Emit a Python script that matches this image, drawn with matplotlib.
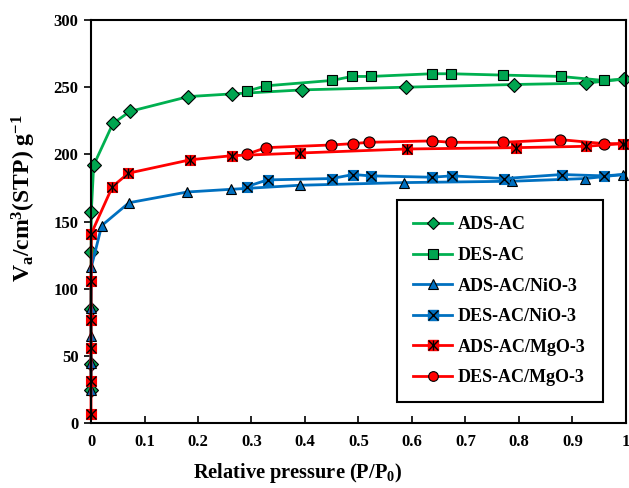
import numpy as np
import matplotlib.pyplot as plt
from matplotlib.lines import Line2D

plt.rcParams['font.family'] = 'Liberation Serif'
plt.rcParams['font.weight'] = 'bold'
plt.rcParams['mathtext.fontset'] = 'custom'
plt.rcParams['mathtext.rm'] = 'Liberation Serif:bold'
plt.rcParams['mathtext.it'] = 'Liberation Serif:bold'
plt.rcParams['mathtext.bf'] = 'Liberation Serif:bold'
plt.rcParams['mathtext.default'] = 'regular'

# adsorption / desorption branches
ads_ac_x = [0.0, 0.0, 0.0, 0.0002, 0.0005, 0.005, 0.041, 0.073, 0.182, 0.263, 0.395, 0.589, 0.791, 0.925, 0.996]
ads_ac_y = [25, 44, 85, 127, 157, 192, 223, 232, 243, 245, 248, 250, 252, 253, 256]
des_ac_x = [0.996, 0.959, 0.878, 0.770, 0.673, 0.637, 0.523, 0.488, 0.450, 0.327, 0.291]
des_ac_y = [256, 255, 258, 259, 260, 260, 258, 258, 255, 251, 247]

ads_ni_x = [0.0, 0.0, 0.0, 0.0, 0.0005, 0.020, 0.071, 0.180, 0.262, 0.390, 0.585, 0.787, 0.924, 0.995]
ads_ni_y = [25, 45, 65, 86, 116, 147, 164, 172, 174, 177, 179, 180, 182, 185]
des_ni_x = [0.995, 0.959, 0.880, 0.772, 0.675, 0.637, 0.523, 0.490, 0.450, 0.330, 0.291]
des_ni_y = [185, 184, 185, 182, 184, 183, 184, 185, 182, 181, 176]

ads_mg_x = [0.0, 0.0, 0.0, 0.0, 0.0002, 0.0005, 0.040, 0.070, 0.186, 0.263, 0.390, 0.590, 0.794, 0.925, 0.995]
ads_mg_y = [7, 31, 56, 77, 106, 141, 176, 186, 196, 199, 201, 204, 205, 206, 208]
des_mg_x = [0.995, 0.959, 0.877, 0.770, 0.673, 0.637, 0.520, 0.490, 0.449, 0.327, 0.291]
des_mg_y = [208, 208, 211, 209, 209, 210, 209, 208, 207, 205, 200]

labels = ['ADS-AC', 'DES-AC', 'ADS-AC/NiO-3', 'DES-AC/NiO-3', 'ADS-AC/MgO-3', 'DES-AC/MgO-3']

green = '#00B050'
blue = '#0070C0'
red = '#FF0000'

fig = plt.figure(figsize=(6.29, 4.88), dpi=100)
ax = fig.add_axes([0.1447, 0.133, 0.8503, 0.826])

lw = 2.0
ms = 7.5
skip = list(range(1, 11))
kw = dict(clip_on=False)

# AC
ax.plot(ads_ac_x, ads_ac_y, color=green, lw=lw, marker='D', ms=7, mfc='#00A550', mec='black', mew=0.8, **kw)
ax.plot(des_ac_x, des_ac_y, color=green, lw=lw, marker='s', ms=ms, mfc='#00A550', mec='black', mew=0.8,
        markevery=skip, **kw)
# NiO
ax.plot(ads_ni_x, ads_ni_y, color=blue, lw=lw, marker='^', ms=ms, mfc=blue, mec='black', mew=0.8, **kw)
ax.plot(des_ni_x, des_ni_y, color=blue, lw=lw, marker='s', ms=ms, mfc=blue, mec=blue, mew=0.8,
        markevery=skip, **kw)
ax.plot(des_ni_x, des_ni_y, ls='none', marker='x', ms=ms, mec='black', mew=1.0, markevery=skip, **kw)
# MgO
ax.plot(des_mg_x, des_mg_y, color=red, lw=lw, marker='o', ms=ms + 0.5, mfc=red, mec='black', mew=0.8,
        markevery=skip, **kw)
ax.plot(ads_mg_x, ads_mg_y, color=red, lw=lw, marker='s', ms=ms, mfc=red, mec=red, mew=0.8, **kw)
ax.plot(ads_mg_x, ads_mg_y, ls='none', marker='x', ms=ms, mec='black', mew=1.0, **kw)
ax.plot(ads_mg_x, ads_mg_y, ls='none', marker='|', ms=ms, mec='black', mew=1.0, **kw)

ax.set_xlim(0, 1)
ax.set_ylim(0, 300)
ax.set_xticks(np.arange(0, 1.01, 0.1))
ax.set_xticklabels(['0', '0.1', '0.2', '0.3', '0.4', '0.5', '0.6', '0.7', '0.8', '0.9', '1'])
ax.set_yticks(range(0, 301, 50))
ax.tick_params(axis='x', direction='in', length=5, width=1.2, labelsize=12, pad=8)
ax.tick_params(axis='y', direction='out', length=5, width=1.2, labelsize=12, pad=4)
for lab in ax.get_xticklabels() + ax.get_yticklabels():
    lab.set_fontweight('bold')
for sp in ax.spines.values():
    sp.set_linewidth(1.5)

ax.set_xlabel('Relative pressure (P/P$_0$)', fontsize=14.7, fontweight='bold')
ax.xaxis.set_label_coords(0.387, -0.095)
ax.set_ylabel('V$_a$/cm$^3$(STP) g$^{-1}$', fontsize=17, fontweight='bold')
ax.yaxis.set_label_coords(-0.10, 0.558)

# legend handles
lms = 6.5
h_ads_ac = Line2D([], [], color=green, lw=lw, marker='D', ms=6, mfc='#00A550', mec='black', mew=0.8)
h_des_ac = Line2D([], [], color=green, lw=lw, marker='s', ms=lms, mfc='#00A550', mec='black', mew=0.8)
h_ads_ni = Line2D([], [], color=blue, lw=lw, marker='^', ms=lms, mfc=blue, mec='black', mew=0.8)
h_des_ni = (Line2D([], [], color=blue, lw=lw, marker='s', ms=lms, mfc=blue, mec=blue),
            Line2D([], [], ls='none', marker='x', ms=lms, mec='black', mew=1.0))
h_ads_mg = (Line2D([], [], color=red, lw=lw, marker='s', ms=lms, mfc=red, mec=red),
            Line2D([], [], ls='none', marker='x', ms=lms, mec='black', mew=1.0),
            Line2D([], [], ls='none', marker='|', ms=lms, mec='black', mew=1.0))
h_des_mg = Line2D([], [], color=red, lw=lw, marker='o', ms=lms + 0.5, mfc=red, mec='black', mew=0.8)

leg = ax.legend([h_ads_ac, h_des_ac, h_ads_ni, h_des_ni, h_ads_mg, h_des_mg], labels,
                loc='upper left', bbox_to_anchor=(0.572, 0.057, 0.385, 0.496),
                mode='expand', borderaxespad=0, fancybox=False, edgecolor='black', framealpha=1,
                prop={'family': 'Liberation Serif', 'weight': 'bold', 'size': 13},
                handlelength=2.15, labelspacing=0.75, borderpad=0.9, handletextpad=0.3)
leg.get_frame().set_linewidth(1.5)

fig.savefig('out.png', dpi=100)
